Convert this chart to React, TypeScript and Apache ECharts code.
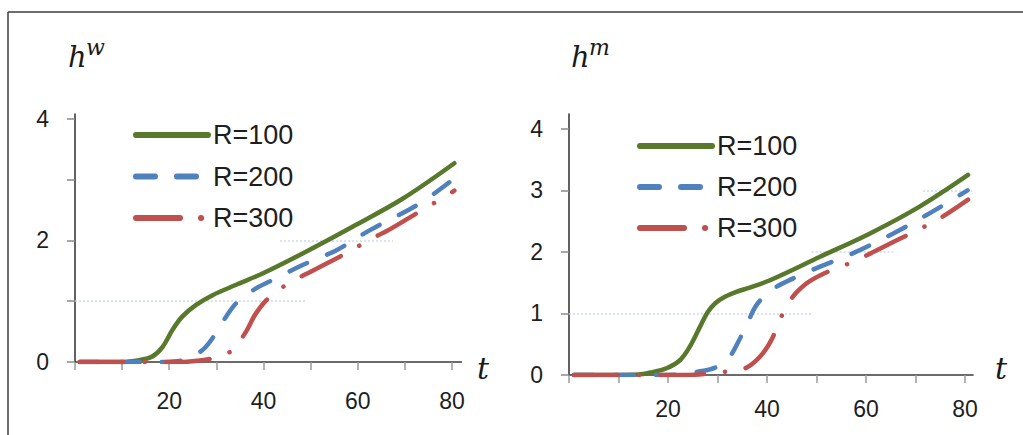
import React, { useEffect, useRef } from "react";
import * as echarts from "echarts";

// h^w (left panel) and h^m (right panel) against t for three values of R
const seriesNames = ["R=100", "R=200", "R=300"];

const hwR100: [number, number][] = [
  [1, 0], [10, 0], [13.6, 0.03], [16.4, 0.09], [18.6, 0.25], [20.7, 0.53], [22.8, 0.75],
  [25.7, 0.94], [29.2, 1.1], [34.2, 1.27], [39.9, 1.46], [48.4, 1.79], [59, 2.23],
  [69.6, 2.69], [80.5, 3.27],
];
const hwR200: [number, number][] = [
  [1, 0], [18, 0], [21, 0.01], [23.5, 0.04], [27.1, 0.2], [29.6, 0.44], [32.1, 0.75],
  [34.5, 0.99], [38.4, 1.21], [42, 1.35], [48.4, 1.6], [55.5, 1.84], [62.6, 2.17],
  [73.2, 2.61], [80.5, 3.02],
];
const hwR300: [number, number][] = [
  [1, 0], [22, 0], [26, 0.02], [29.2, 0.06], [31.5, 0.12], [33.5, 0.2], [36.3, 0.5],
  [38.4, 0.8], [41.3, 1.07], [45.5, 1.3], [50.1, 1.49], [58.3, 1.82], [62.2, 2.0],
  [66.5, 2.17], [74.3, 2.53], [78.5, 2.72], [80.5, 2.82],
];

const hmR100: [number, number][] = [
  [1, 0], [14, 0.01], [16.4, 0.04], [19.7, 0.11], [22.4, 0.24], [24.4, 0.46], [26.5, 0.79],
  [28, 1.02], [29.6, 1.17], [31.5, 1.27], [33.8, 1.35], [36.5, 1.42], [40.6, 1.54],
  [50.7, 1.92], [60.8, 2.3], [70.9, 2.74], [80.6, 3.25],
];
const hmR200: [number, number][] = [
  [1, 0], [20, 0], [24, 0.02], [26.5, 0.06], [28.5, 0.09], [30.5, 0.16], [32.5, 0.3],
  [34.2, 0.54], [36.2, 0.87], [37.9, 1.14], [40.9, 1.38], [45.3, 1.57], [50.7, 1.76],
  [57.4, 1.98], [65.5, 2.3], [72.9, 2.63], [80.5, 3.0],
];
const hmR300: [number, number][] = [
  [1, 0], [24, 0], [28, 0.02], [31.2, 0.05], [35.6, 0.11], [38.6, 0.3], [40.9, 0.57],
  [42.6, 0.9], [45, 1.25], [48, 1.49], [51, 1.63], [55.3, 1.77], [59.5, 1.92],
  [66.5, 2.2], [70.8, 2.37], [75, 2.55], [80.6, 2.85],
];

// axis ticks and labels
const xTicks = [0, 10, 20, 30, 40, 50, 60, 70, 80];
const xLabels = [20, 40, 60, 80];
const yTicks = [0, 1, 2, 3, 4];
const yLabelsLeft = [0, 2, 4];
const yLabelsRight = [0, 1, 2, 3, 4];

// faint dotted guide segments: [h, tFrom, tTo]
const guidesLeft: [number, number, number][] = [
  [1, 0, 49],
  [2, 43.5, 67.5],
];
const guidesRight: [number, number, number][] = [
  [1, 0, 49],
  [2, 49, 65.5],
  [3, 71.5, 81.5],
];

const GREEN = "#58792b";
const BLUE = "#4f81bd";
const RED = "#c0504d";
const LINE_W = 4.5;
const SANS = "'Liberation Sans', Arial, sans-serif";
const SERIF = "'DejaVu Serif', serif";

const styles = [
  { color: GREEN, type: "solid" as any },
  { color: BLUE, type: [19, 22] },
  { color: RED, type: [44, 21, 0.1, 21] },
];

function makeSeries(
  data: [number, number][][],
  gridIdx: number,
  guides: [number, number, number][]
) {
  return data.map((d, i) => ({
    name: seriesNames[i],
    type: "line",
    xAxisIndex: gridIdx,
    yAxisIndex: gridIdx,
    data: d,
    smooth: 0.35,
    symbol: "none",
    z: 3 + i,
    lineStyle: {
      color: styles[i].color,
      width: LINE_W,
      type: styles[i].type,
      cap: "round",
      join: "round",
    },
    itemStyle: { color: styles[i].color },
    markLine:
      i === 0
        ? {
            silent: true,
            symbol: "none",
            label: { show: false },
            z: 1,
            lineStyle: { color: "#cdd8ee", width: 1.5, type: [2, 2] },
            data: guides.map(([h, a, b]) => [{ coord: [a, h] }, { coord: [b, h] }]),
          }
        : undefined,
  }));
}

function xAxis(gridIndex: number, max: number, margin: number) {
  return {
    type: "value",
    gridIndex,
    min: 0,
    max,
    splitLine: { show: false },
    axisLine: { show: true, onZero: false, lineStyle: { color: "#3a3a3a", width: 1.6 } },
    axisTick: {
      show: true,
      length: 8,
      customValues: xTicks,
      lineStyle: { color: "#9a9a9a", width: 1.5 },
    },
    axisLabel: {
      customValues: xLabels,
      margin,
      fontSize: 23,
      fontFamily: SANS,
      color: "#1e1e1e",
    },
  };
}

function yAxis(gridIndex: number, max: number, labels: number[]) {
  return {
    type: "value",
    gridIndex,
    min: 0,
    max,
    splitLine: { show: false },
    axisLine: { show: true, onZero: false, lineStyle: { color: "#3a3a3a", width: 1.6 } },
    axisTick: {
      show: true,
      length: 8,
      customValues: yTicks,
      lineStyle: { color: "#8a8a8a", width: 1.5 },
    },
    axisLabel: {
      customValues: labels,
      margin: 26,
      fontSize: 23,
      fontFamily: SANS,
      color: "#1e1e1e",
    },
  };
}

function legend(left: number, top: number, gap: number) {
  return {
    orient: "vertical",
    left,
    top,
    padding: 0,
    itemWidth: 72,
    itemHeight: 30,
    itemGap: gap,
    selectedMode: false,
    data: seriesNames,
    lineStyle: { width: 6 },
    itemStyle: { opacity: 0 },
    textStyle: { fontSize: 27, fontFamily: SANS, color: "#1e1e1e", lineHeight: 30 },
  };
}

function mathLabel(x: number, y: number, base: string, sup: string) {
  return {
    type: "group",
    children: [
      {
        type: "text",
        x,
        y,
        style: {
          text: base,
          font: `italic 29px ${SERIF}`,
          fill: "#1a1a1a",
          textVerticalAlign: "middle",
        },
      },
      {
        type: "text",
        x: x + 18,
        y: y - 10,
        style: {
          text: sup,
          font: `italic 22px ${SERIF}`,
          fill: "#1a1a1a",
          textVerticalAlign: "middle",
        },
      },
    ],
  };
}

export default function App() {
  const ref = useRef<HTMLDivElement>(null);

  useEffect(() => {
    if (!ref.current) return;
    const chart = echarts.init(ref.current, undefined, { renderer: "svg" });
    chart.setOption({
      animation: false,
      backgroundColor: "#ffffff",
      grid: [
        { left: 75, top: 114, width: 386.4, height: 248 },
        { left: 569, top: 114, width: 404, height: 261 },
      ],
      xAxis: [xAxis(0, 82, 27), xAxis(1, 81.6, 22)],
      yAxis: [yAxis(0, 4.08, yLabelsLeft), yAxis(1, 4.24, yLabelsRight)],
      legend: [legend(133, 120, 11.5), legend(637, 131, 11)],
      series: [
        ...makeSeries([hwR100, hwR200, hwR300], 0, guidesLeft),
        ...makeSeries([hmR100, hmR200, hmR300], 1, guidesRight),
      ],
      graphic: [
        { type: "line", shape: { x1: 8, y1: 12, x2: 1023, y2: 12 }, style: { stroke: "#3c3c3c", lineWidth: 1.5 } },
        { type: "line", shape: { x1: 8, y1: 12, x2: 8, y2: 435 }, style: { stroke: "#3c3c3c", lineWidth: 1.5 } },
        mathLabel(68, 57, "h", "w"),
        mathLabel(571, 57, "h", "m"),
        {
          type: "text",
          x: 477,
          y: 368,
          style: { text: "t", font: `italic 30px ${SERIF}`, fill: "#1a1a1a", textVerticalAlign: "middle" },
        },
        {
          type: "text",
          x: 995,
          y: 368,
          style: { text: "t", font: `italic 30px ${SERIF}`, fill: "#1a1a1a", textVerticalAlign: "middle" },
        },
      ],
    });
    return () => chart.dispose();
  }, []);

  return (
    <div
      ref={ref}
      style={{ position: "fixed", left: 0, top: 0, width: 1023, height: 435 }}
    />
  );
}
